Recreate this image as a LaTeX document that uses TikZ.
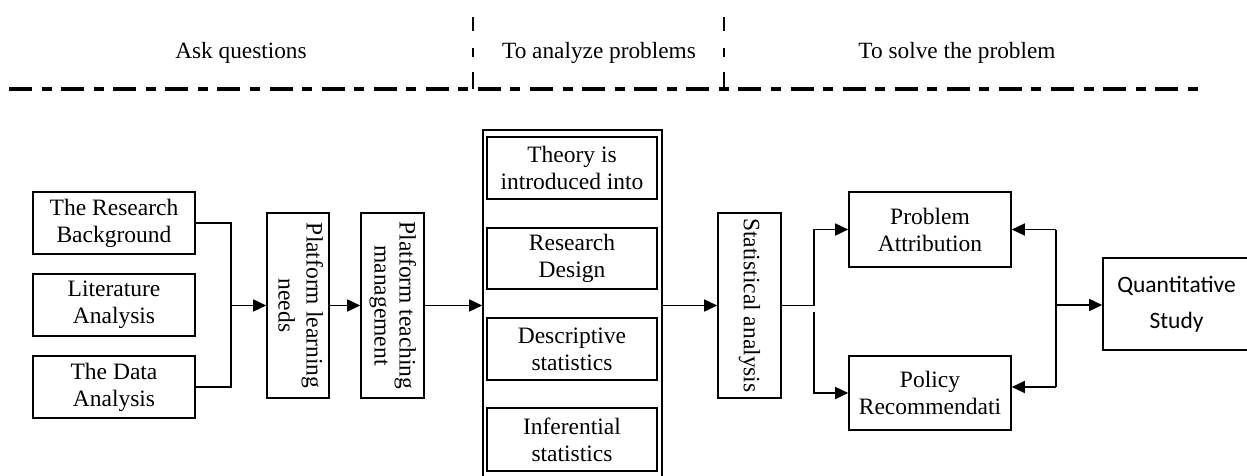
\documentclass[tikz,border=0pt]{standalone}
\usepackage{fontspec}
\setmainfont{Liberation Serif}
\newfontfamily\carlfont{Carlito}
\usetikzlibrary{arrows.meta}
\begin{document}
\begin{tikzpicture}[x=1pt,y=-1pt,
  box/.style={draw, line width=1.6pt, inner sep=0pt, align=center, font=\fontsize{23.5}{27}\selectfont},
  hdr/.style={inner sep=0pt, font=\fontsize{23.3}{27}\selectfont},
  ln/.style={line width=1.6pt},
  arr/.style={line width=1.6pt, -{Triangle[length=13pt,width=12pt]}},
  phaseline/.style={line width=3.2pt, dash pattern=on 23pt off 9.5pt on 10pt off 9.6pt},
  divider/.style={line width=2.8pt, dash pattern=on 17pt off 15pt on 9pt off 17pt on 14pt off 10pt}]
\useasboundingbox (0,0) rectangle (1247,476);
% header
\node[hdr] (h1) at (241,53) {Ask questions};
\node[hdr] (h2) at (599,53) {To analyze problems};
\node[hdr] (h3) at (957,53) {To solve the problem};
\draw[phaseline] (9,89) -- (1198,89);
\draw[divider] (473,89) -- (473,17);
\draw[divider] (724,89) -- (724,17);
% left inputs
\node[box, minimum width=162pt, minimum height=62pt] (rb) at (114,223) {The Research\\Background};
\node[box, minimum width=162pt, minimum height=62pt] (la) at (114,305) {Literature\\Analysis};
\node[box, minimum width=162pt, minimum height=62pt] (da) at (114,387) {The Data\\Analysis};
% vertical boxes
\node[box, minimum width=62pt, minimum height=185pt] (pln) at (298,305.5)
  {\rotatebox{-90}{\begin{tabular}{@{}c@{}}Platform learning\\[1pt]needs\end{tabular}}};
\node[box, minimum width=63pt, minimum height=185pt] (ptm) at (392.5,305.5)
  {\rotatebox{-90}{\begin{tabular}{@{}c@{}}Platform teaching\\[-2pt]management\end{tabular}}};
% central column
\node[draw, line width=1.6pt, minimum width=179pt, minimum height=356pt, inner sep=0pt] (outer) at (572.5,308) {};
\node[box, minimum width=170pt, minimum height=62pt] (th) at (572,168) {Theory is\\introduced into};
\node[box, minimum width=170pt, minimum height=61pt] (rd) at (572,258.5) {Research\\Design};
\node[box, minimum width=170pt, minimum height=62pt] (ds) at (572,349) {Descriptive\\statistics};
\node[box, minimum width=170pt, minimum height=63pt] (is) at (572,439.5) {Inferential\\statistics};
% statistical analysis
\node[box, minimum width=63pt, minimum height=185pt] (sa) at (749.5,305.5)
  {\rotatebox{-90}{Statistical analysis}};
% outcomes
\node[box, minimum width=162pt, minimum height=75pt] (pa) at (930,229.5) {Problem\\Attribution};
\node[box, minimum width=162pt, minimum height=74pt] (pr) at (930,393) {Policy\\Recommendati};
\node[box, minimum width=147pt, minimum height=92pt, font=\carlfont\fontsize{23.5}{36}\selectfont] (qs) at (1176.5,304) {Quantitative\\Study};
% connectors
\coordinate (j1) at (231,305.5);
\draw[ln] (rb.east) -| (j1) |- (da.east);
\draw[arr] (j1) -- (pln.west);
\draw[arr] (pln.east) -- (ptm.west);
\draw[arr] (ptm.east) -- (ptm.east -| outer.west);
\draw[arr] (outer.east |- sa.west) -- (sa.west);
\coordinate (j2) at (814,305.5);
\coordinate (j2b) at (814,312);
\draw[ln] (sa.east) -- (j2);
\draw[arr] (j2) |- (pa.west);
\draw[arr] (j2b) |- (pr.west);
\coordinate (j3) at (1056,305);
\coordinate (j3t) at (1056,229.5);
\coordinate (j3b) at (1056,387);
\draw[ln] (j3t) -- (j3b);
\draw[arr] (j3) -- (j3 -| qs.west);
\draw[arr] (j3t) -- (pa.east);
\draw[arr] (j3b) -- (j3b -| pr.east);
\end{tikzpicture}
\end{document}
